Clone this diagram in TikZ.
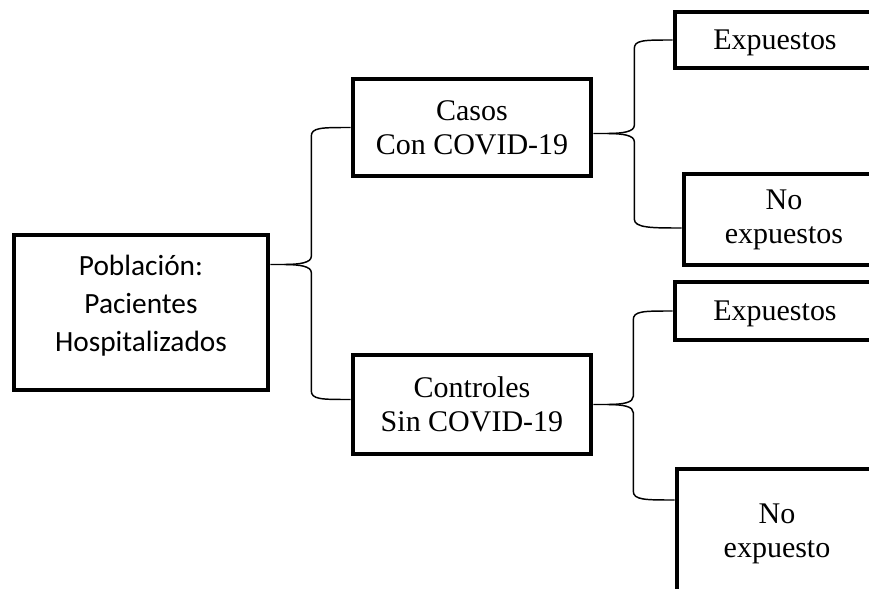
\documentclass[tikz,border=0pt]{standalone}
\usepackage{fontspec}
\setmainfont{Liberation Serif}
\newfontfamily\calibri{Carlito}
\usetikzlibrary{calc, positioning}

% curly brace joining one box to two boxes
% #1 tip, #2 upper end, #3 lower end, #4 offset of the spine
\newcommand{\branchbrace}[4]{%
  \coordinate (sp) at ($(#1)+(#4,0)$);
  \draw[brace] (#2) .. controls +(-30,0) and +(0,-9) .. ($(sp |- #2)+(0,9)$)
    -- ($(sp |- #1)+(0,-8)$)
    .. controls +(0,6) and +(16,0) .. ($(#1)+(14,0)$) -- (#1);
  \draw[brace] ($(#1)+(14,0)$) .. controls +(16,0) and +(0,-6) .. ($(sp |- #1)+(0,8)$)
    -- ($(sp |- #3)+(0,-9)$)
    .. controls +(0,9) and +(-30,0) .. (#3);
}

\begin{document}
\begin{tikzpicture}[
    x=0.75pt, y=-0.75pt,
    box/.style={draw=black, line width=3.4pt, align=center, inner sep=2pt,
                font=\fontsize{22.5}{25.5}\selectfont},
    popbox/.style={box, font=\calibri\fontsize{22}{28.5}\selectfont},
    brace/.style={draw=black, line width=1.1pt}
]
\useasboundingbox (0,0) rectangle (869,589);
\clip (0,0) rectangle (869,589);

% Population
\node[popbox, text depth=14pt, minimum width=254*0.75pt, minimum height=155*0.75pt] (pob) at (141,312.5)
    {Población:\\Pacientes\\Hospitalizados};

% Cases and controls
\node[box, minimum width=238*0.75pt, minimum height=97*0.75pt] (casos) at (472,127.5)
    {Casos\\Con COVID-19};
\node[box, minimum width=238*0.75pt, minimum height=99*0.75pt] (ctrl) at (472,404.5)
    {Controles\\Sin COVID-19};

% Exposure, cut at the page edge
\node[box, text depth=0pt, minimum width=200*0.75pt, minimum height=56*0.75pt] (exp1) at (775,40) {Expuestos};
\node[box, minimum width=200*0.75pt, minimum height=91*0.75pt] (noexp1) at (784,219.5) {No\\expuestos};
\node[box, text depth=0pt, minimum width=200*0.75pt, minimum height=58*0.75pt] (exp2) at (775,311) {Expuestos};
\node[box, minimum width=200*0.75pt, minimum height=129*0.75pt] (noexp2) at (777,533.5) {No\\expuesto};

% Braces
\coordinate (tip1) at ($(pob.east)+(0,-48)$);
\coordinate (low1) at ($(ctrl.west)+(0,-5)$);
\branchbrace{tip1}{casos.west}{low1}{41}

\coordinate (tip2) at ($(casos.east)+(0,6)$);
\coordinate (low2) at ($(noexp1.west)+(0,8.5)$);
\branchbrace{tip2}{exp1.west}{low2}{41}

\coordinate (tip3) at (ctrl.east);
\coordinate (low3) at ($(noexp2.west)+(0,-33.5)$);
\branchbrace{tip3}{exp2.west}{low3}{40}

\end{tikzpicture}
\end{document}
